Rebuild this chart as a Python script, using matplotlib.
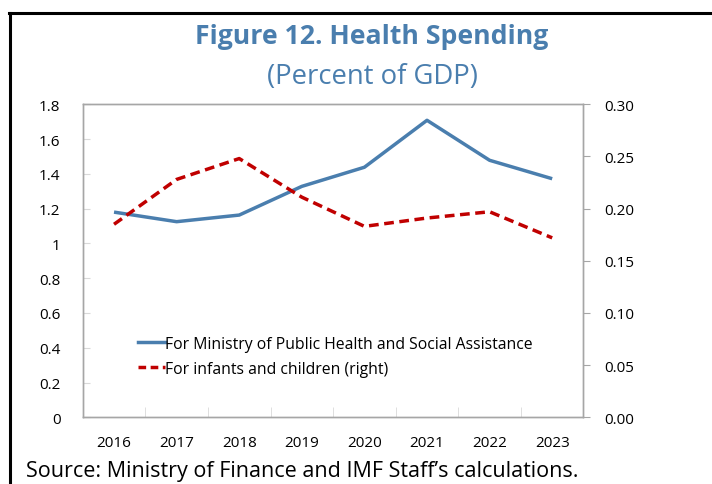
import matplotlib.pyplot as plt
from matplotlib.lines import Line2D

years = ["2016", "2017", "2018", "2019", "2020", "2021", "2022", "2023"]
ministry = [1.18, 1.125, 1.163, 1.328, 1.438, 1.708, 1.478, 1.372]
infants = [0.185, 0.228, 0.248, 0.211, 0.183, 0.191, 0.197, 0.172]

left_ticks = [0, 0.2, 0.4, 0.6, 0.8, 1, 1.2, 1.4, 1.6, 1.8]
left_labels = ["0", "0.2", "0.4", "0.6", "0.8", "1", "1.2", "1.4", "1.6", "1.8"]
right_ticks = [0.0, 0.05, 0.10, 0.15, 0.20, 0.25, 0.30]

BLUE = "#4a7eae"
RED = "#c00000"
SPINE = "#a6a6a6"
DASH = (2.8, 1.6)

plt.rcParams["font.family"] = ["Open Sans", "DejaVu Sans"]

fig = plt.figure(figsize=(7.12, 4.85), dpi=100)
ax = fig.add_axes([0.1162, 0.1375, 0.7033, 0.6454])
ax2 = ax.twinx()

x = list(range(len(years)))
ax.plot(x, ministry, color=BLUE, lw=2.5, solid_capstyle="butt")
ax2.plot(x, infants, color=RED, lw=2.5, dashes=DASH)

ax.set_xlim(-0.5, len(years) - 0.5)
ax.set_ylim(0, 1.8)
ax2.set_ylim(0, 0.30)

ax.set_yticks(left_ticks)
ax.set_yticklabels(left_labels)
ax2.set_yticks(right_ticks)
ax2.set_yticklabels([f"{v:.2f}" for v in right_ticks])

ax.set_xticks(x)
ax.set_xticklabels(years)
ax.set_xticks([i + 0.5 for i in range(-1, len(years))], minor=True)
ax.tick_params(axis="x", which="major", length=0, pad=13, labelsize=11)
ax.tick_params(axis="x", which="minor", direction="in", length=7, color="#d9d9d9")
ax.tick_params(axis="y", direction="in", length=5, color="#d9d9d9", labelsize=11, pad=16)
ax2.tick_params(axis="y", direction="out", length=5, color=SPINE, labelsize=11, pad=10)

for a in (ax, ax2):
    for s in a.spines.values():
        s.set_color(SPINE)
        s.set_linewidth(1)

handles = [
    Line2D([], [], color=BLUE, lw=2.5),
    Line2D([], [], color=RED, lw=2.5, dashes=(2.2, 1.3)),
]
labels = ["For Ministry of Public Health and Social Assistance",
          "For infants and children (right)"]
ax.legend(handles, labels, loc="lower left", bbox_to_anchor=(0.095, 0.105),
          frameon=False, fontsize=11.3, handlelength=1.7, handletextpad=0.0,
          labelspacing=0.55, borderpad=0)

fig.text(0.5225, 0.909, "Figure 12. Health Spending", ha="center", va="baseline",
         fontsize=19.2, fontweight="bold", color=BLUE)
fig.text(0.5225, 0.8275, "(Percent of GDP)", ha="center", va="baseline",
         fontsize=19.8, color=BLUE)
fig.text(0.036, 0.017, "Source: Ministry of Finance and IMF Staff\u2019s calculations.",
         ha="left", va="baseline", fontsize=15.5, color="black")

fig.add_artist(Line2D([0.014, 0.014], [0.0, 0.971], transform=fig.transFigure,
                      color="black", lw=2.2))
fig.add_artist(Line2D([0.013, 1.0], [0.971, 0.971], transform=fig.transFigure,
                      color="black", lw=2.2))

fig.savefig("out.png", dpi=100)
